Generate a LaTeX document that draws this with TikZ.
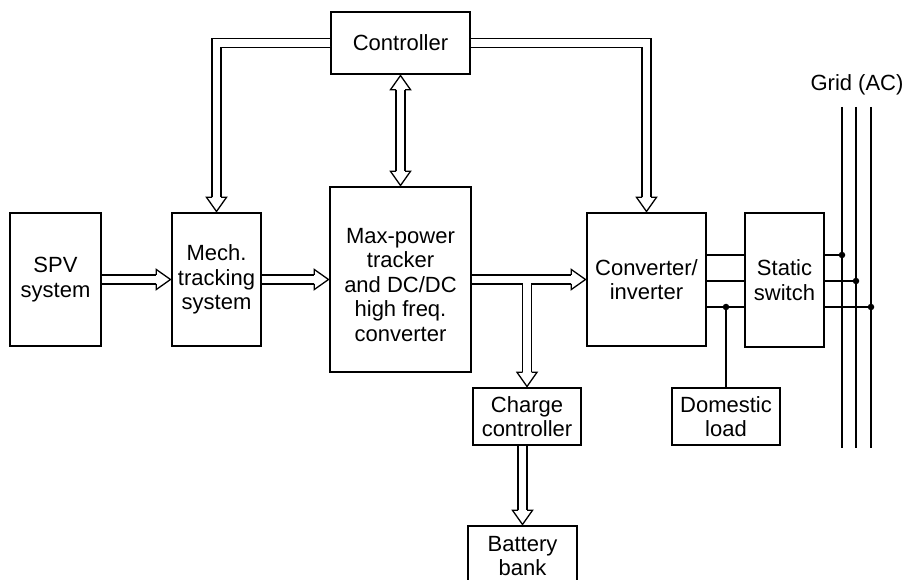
\documentclass[tikz,border=0pt]{standalone}
\usepackage{fontspec}
\setmainfont{Liberation Sans}
\newcommand\ahead[2]{%
  \begin{scope}[shift={#1}, rotate=#2]
    \fill[white] (-0.8,0) -- (-15,10) -- (-15,-10) -- cycle;
    \draw[line width=1.3pt, line join=miter] (-15,4.5) -- (-15,10) -- (-0.8,0) -- (-15,-10) -- (-15,-4.5);
  \end{scope}}
\begin{document}
\begin{tikzpicture}[x=1pt,y=-1pt,
  lbl/.style={align=center, inner sep=0pt, font=\fontsize{22}{24.5}\selectfont},
  box/.style={lbl, draw, rectangle, line width=1.4pt},
  dbl/.style={draw, line width=1.3pt, double=white, double distance=7.7pt},
  wire/.style={line width=1.3pt},
  dot/.style={circle, fill, inner sep=0pt, minimum size=6.5pt}]
\useasboundingbox (0,0) rectangle (906,580);
% boxes
\node[box, minimum width=139pt, minimum height=62pt] (ctrl) at (400.5,43) {Controller};
\node[box, minimum width=91pt, minimum height=133pt] (spv) at (55.5,279.5) {SPV\\system};
\node[box, minimum width=89pt, minimum height=133pt] (mech) at (216.5,279.5) {Mech.\\tracking\\system};
\node[box, minimum width=141pt, minimum height=185pt] (mpt) at (400.5,279.5) {};
\node[lbl] (mptt) at (400.5,285) {Max-power\\tracker\\and DC/DC\\high freq.\\converter};
\node[box, minimum width=119pt, minimum height=133pt] (conv) at (646.5,279.5) {Converter/\\inverter};
\node[box, minimum width=79pt, minimum height=134pt] (sw) at (784.5,280) {Static\\switch};
\node[box, minimum width=108pt, minimum height=57pt] (cc) at (527,416.5) {Charge\\controller};
\node[box, minimum width=109pt, minimum height=60pt] (bat) at (522.5,556) {Battery\\bank};
\node[box, minimum width=108pt, minimum height=57pt] (dl) at (726,416.5) {Domestic\\load};
\node[lbl] (gl) at (857,85) {Grid (AC)};
% double arrows from controller
\draw[dbl, shorten >=15pt] (ctrl.west) -| (mech.north);
\ahead{(mech.north)}{-90}
\draw[dbl, shorten >=15pt] (ctrl.east) -| (conv.north);
\ahead{(conv.north)}{-90}
\draw[dbl, shorten <=15pt, shorten >=15pt] (ctrl.south) -- (mpt.north);
\ahead{(ctrl.south)}{90}
\ahead{(mpt.north)}{-90}
% main power path
\draw[dbl, shorten >=15pt] (spv.east) -- (mech.west);
\ahead{(mech.west)}{0}
\draw[dbl, shorten >=15pt] (mech.east) -- (mpt.west);
\ahead{(mpt.west)}{0}
\draw[dbl, shorten >=15pt] (mpt.east) -- (conv.west);
\ahead{(conv.west)}{0}
\coordinate (j) at (cc.north |- mpt.east);
\draw[dbl, shorten >=15pt] (j) -- (cc.north);
\draw[white, line width=7.7pt] (j) ++(-12,0) -- ++(24,0);
\ahead{(cc.north)}{-90}
\coordinate (cb) at (bat.north |- cc.south);
\draw[dbl, shorten >=15pt] (cb) -- (bat.north);
\ahead{(bat.north)}{-90}
% AC wiring
\coordinate (r1) at (0,255);
\coordinate (r2) at (0,281);
\coordinate (r3) at (0,307);
\coordinate (g1t) at (842,107);
\coordinate (g1b) at (842,448);
\coordinate (g2t) at (856,107);
\coordinate (g2b) at (856,448);
\coordinate (g3t) at (871,107);
\coordinate (g3b) at (871,448);
\draw[wire] (g1t) -- (g1b);
\draw[wire] (g2t) -- (g2b);
\draw[wire] (g3t) -- (g3b);
\draw[wire] (conv.east |- r1) -- (sw.west |- r1);
\draw[wire] (conv.east |- r2) -- (sw.west |- r2);
\draw[wire] (conv.east |- r3) -- (sw.west |- r3);
\draw[wire] (sw.east |- r1) -- (g1t |- r1) node[dot] (d1) {};
\draw[wire] (sw.east |- r2) -- (g2t |- r2) node[dot] (d2) {};
\draw[wire] (sw.east |- r3) -- (g3t |- r3) node[dot] (d3) {};
\draw[wire] (dl.north |- r3) node[dot] (d4) {} -- (dl.north);
\end{tikzpicture}
\end{document}
